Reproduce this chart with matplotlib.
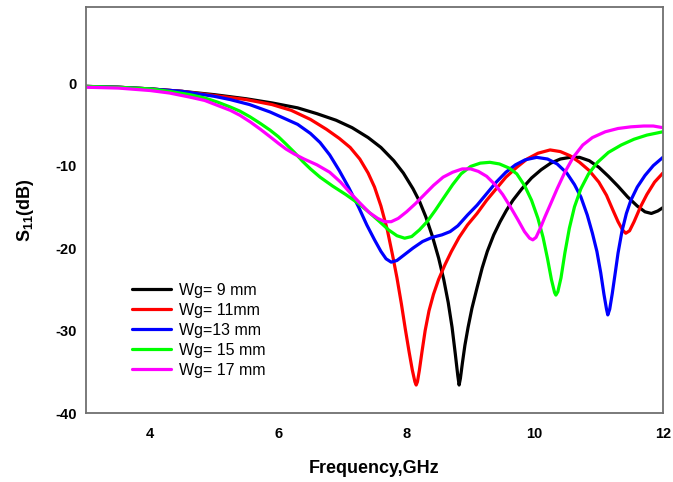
import matplotlib
matplotlib.use('Agg')
import matplotlib.pyplot as plt

plt.rc('font', family='Liberation Sans')
plt.rc('axes', unicode_minus=False)
plt.rc('mathtext', fontset='custom', rm='Liberation Sans', bf='Liberation Sans:bold')

# S11 curves for different ground widths (frequency in GHz, S11 in dB)
f_9 = [3.0, 3.5, 4.0, 4.5, 5.0, 5.5, 5.9, 6.3, 6.6, 6.9, 7.15, 7.4, 7.6, 7.8,
       7.95, 8.1, 8.2, 8.3, 8.4, 8.5, 8.58, 8.65, 8.71, 8.76, 8.8, 8.82, 8.84,
       8.87, 8.91, 8.96, 9.02, 9.1, 9.18, 9.26, 9.36, 9.46, 9.56, 9.66, 9.8,
       9.95, 10.1, 10.25, 10.4, 10.55, 10.7, 10.85, 11.0, 11.15, 11.3, 11.45,
       11.6, 11.72, 11.82, 11.92, 12.0]
s_9 = [-0.4, -0.5, -0.7, -1.0, -1.4, -1.9, -2.4, -3.0, -3.7, -4.5, -5.4, -6.6,
       -7.8, -9.4, -10.9, -12.8, -14.3, -16.2, -18.5, -21.2, -23.8, -26.6,
       -29.6, -32.8, -35.5, -36.6, -35.8, -34.0, -31.8, -29.6, -27.3, -24.8,
       -22.4, -20.4, -18.4, -16.8, -15.4, -14.2, -12.8, -11.5, -10.5, -9.7,
       -9.2, -9.0, -9.0, -9.4, -10.2, -11.3, -12.5, -13.8, -14.9, -15.6, -15.8,
       -15.5, -15.1]

f_11 = [3.0, 3.5, 4.0, 4.5, 5.0, 5.5, 5.9, 6.2, 6.5, 6.75, 6.95, 7.12, 7.27,
        7.4, 7.5, 7.6, 7.7, 7.78, 7.85, 7.92, 7.98, 8.04, 8.09, 8.13, 8.15,
        8.17, 8.2, 8.24, 8.29, 8.35, 8.42, 8.5, 8.6, 8.7, 8.82, 8.95, 9.1, 9.25,
        9.4, 9.55, 9.72, 9.88, 10.05, 10.24, 10.4, 10.55, 10.7, 10.85, 11.0,
        11.12, 11.22, 11.3, 11.37, 11.42, 11.48, 11.55, 11.65, 11.75, 11.87, 12.0]
s_11 = [-0.4, -0.5, -0.7, -1.0, -1.5, -2.0, -2.6, -3.3, -4.4, -5.6, -6.7, -7.8,
        -9.2, -10.9, -12.6, -14.9, -17.8, -20.8, -23.6, -26.8, -29.8, -32.6,
        -34.8, -36.2, -36.6, -36.2, -34.8, -32.6, -30.0, -27.6, -25.6, -23.8,
        -22.0, -20.4, -18.7, -17.2, -15.8, -14.2, -12.8, -11.4, -10.2, -9.2,
        -8.5, -8.1, -8.3, -8.8, -9.6, -10.6, -12.0, -13.6, -15.4, -16.8, -17.8,
        -18.2, -17.9, -16.8, -15.0, -13.5, -12.0, -10.9]

f_13 = [3.0, 3.5, 4.0, 4.5, 5.0, 5.25, 5.55, 5.87, 6.1, 6.3, 6.5, 6.65, 6.8,
        6.95, 7.1, 7.25, 7.38, 7.5, 7.6, 7.68, 7.76, 7.85, 7.95, 8.1, 8.25, 8.4,
        8.55, 8.68, 8.8, 8.95, 9.1, 9.25, 9.4, 9.55, 9.7, 9.85, 10.03, 10.2,
        10.35, 10.5, 10.62, 10.72, 10.82, 10.9, 10.97, 11.03, 11.08, 11.12,
        11.14, 11.17, 11.21, 11.26, 11.3, 11.36, 11.43, 11.5, 11.6, 11.72,
        11.85, 12.0]
s_13 = [-0.4, -0.5, -0.7, -1.0, -1.6, -2.0, -2.6, -3.5, -4.3, -5.0, -6.1, -7.2,
        -8.7, -10.6, -12.7, -15.0, -17.2, -19.0, -20.4, -21.3, -21.7, -21.5,
        -20.9, -20.0, -19.2, -18.7, -18.4, -18.0, -17.3, -16.0, -14.8, -13.4,
        -12.0, -10.8, -9.9, -9.3, -9.0, -9.2, -9.8, -10.9, -12.3, -13.8, -16.0,
        -18.2, -20.4, -23.0, -25.6, -27.4, -28.1, -27.4, -25.5, -22.8, -20.6,
        -18.0, -15.8, -14.2, -12.6, -11.2, -10.0, -9.0]

f_15 = [3.0, 3.5, 4.0, 4.3, 4.62, 4.85, 5.05, 5.25, 5.4, 5.56, 5.72, 5.87, 6.0,
        6.12, 6.25, 6.38, 6.5, 6.65, 6.85, 7.05, 7.25, 7.42, 7.58, 7.72, 7.85,
        7.97, 8.08, 8.2, 8.32, 8.45, 8.58, 8.72, 8.85, 9.0, 9.15, 9.3, 9.45, 9.6,
        9.72, 9.84, 9.95, 10.05, 10.13, 10.2, 10.26, 10.31, 10.33, 10.36, 10.41,
        10.47, 10.54, 10.62, 10.72, 10.84, 10.98, 11.15, 11.35, 11.55, 11.75, 12.0]
s_15 = [-0.4, -0.5, -0.7, -1.0, -1.4, -1.8, -2.3, -2.9, -3.4, -4.1, -4.9, -5.7,
        -6.5, -7.4, -8.4, -9.5, -10.4, -11.4, -12.5, -13.5, -14.6, -15.7, -16.8,
        -17.8, -18.5, -18.8, -18.6, -17.8, -16.8, -15.4, -13.9, -12.3, -11.0,
        -10.1, -9.7, -9.6, -9.8, -10.3, -11.0, -12.4, -14.2, -16.4, -18.7,
        -21.3, -23.8, -25.4, -25.7, -25.3, -23.6, -20.6, -17.6, -15.0, -12.8,
        -11.0, -9.6, -8.4, -7.5, -6.8, -6.3, -5.9]

f_17 = [3.0, 3.5, 4.0, 4.3, 4.62, 4.85, 5.05, 5.25, 5.4, 5.56, 5.72, 5.87, 6.0,
        6.12, 6.25, 6.4, 6.6, 6.8, 6.97, 7.12, 7.28, 7.42, 7.55, 7.66, 7.76,
        7.87, 8.0, 8.14, 8.28, 8.42, 8.57, 8.72, 8.87, 9.0, 9.12, 9.25, 9.38,
        9.5, 9.62, 9.74, 9.84, 9.92, 9.97, 10.02, 10.08, 10.16, 10.25, 10.35,
        10.47, 10.6, 10.75, 10.9, 11.1, 11.3, 11.5, 11.7, 11.85, 12.0]
s_17 = [-0.5, -0.6, -0.9, -1.2, -1.7, -2.1, -2.7, -3.3, -3.9, -4.7, -5.6, -6.5,
        -7.3, -8.0, -8.6, -9.2, -9.9, -10.8, -12.0, -13.3, -14.6, -15.7, -16.4,
        -16.8, -16.8, -16.4, -15.6, -14.6, -13.5, -12.4, -11.4, -10.8, -10.4,
        -10.4, -10.7, -11.3, -12.3, -13.5, -15.0, -16.6, -18.0, -18.8, -19.0,
        -18.7, -17.7, -16.2, -14.6, -12.8, -10.8, -9.0, -7.5, -6.6, -5.9, -5.5,
        -5.3, -5.2, -5.2, -5.4]

labels = ['Wg= 9 mm', 'Wg= 11mm', 'Wg=13 mm', 'Wg= 15 mm', 'Wg= 17 mm']
colors = ['#000000', '#ff0000', '#0000ff', '#00ff00', '#ff00ff']

fig = plt.figure(figsize=(6.73, 4.82), dpi=100)
ax = fig.add_axes([0.128, 0.143, 0.857, 0.842])

series = [(f_9, s_9), (f_11, s_11), (f_13, s_13), (f_15, s_15), (f_17, s_17)]
for (f, s), lab, c in zip(series, labels, colors):
    ax.plot(f, s, color=c, lw=2.3, label=lab,
            solid_capstyle='round', solid_joinstyle='round')

ax.set_xlim(3, 12)
ax.set_ylim(-40, 9.2)
ax.set_xticks([4, 6, 8, 10, 12])
ax.set_yticks([0, -10, -20, -30, -40])
ax.tick_params(length=0, labelsize=10.5)
ax.tick_params(axis='x', pad=10)
ax.tick_params(axis='y', pad=6.5)
for lbl in ax.get_xticklabels() + ax.get_yticklabels():
    lbl.set_fontweight('bold')

for sp in ax.spines.values():
    sp.set_color('#707070')
    sp.set_linewidth(1.3)

ax.set_xlabel('Frequency,GHz', fontsize=13, fontweight='bold', labelpad=14)
ax.set_ylabel(r'S$_\mathbf{11}$(dB)', fontsize=13, fontweight='bold', labelpad=14)

ax.legend(loc='lower left', bbox_to_anchor=(0.08, 0.0875), frameon=False,
          fontsize=11.5, borderpad=0, borderaxespad=0, handlelength=2.45,
          handletextpad=0.5, labelspacing=0.305)

fig.savefig('out.png', dpi=100)
